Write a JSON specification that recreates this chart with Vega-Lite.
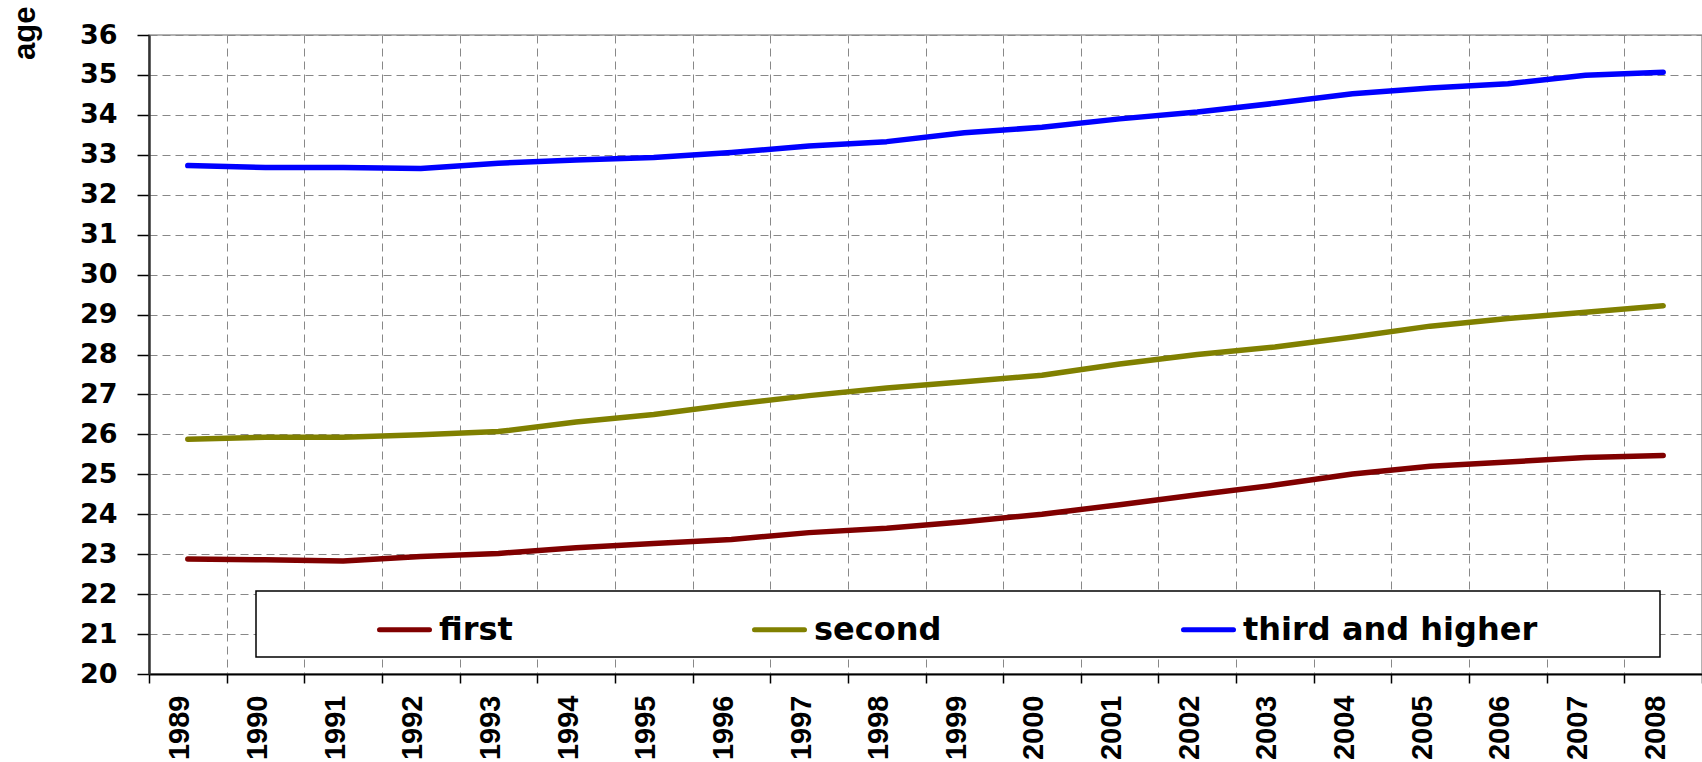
{
  "$schema": "https://vega.github.io/schema/vega-lite/v6.json",
  "width": 1553,
  "height": 639,
  "autosize": {"type": "none"},
  "padding": {"left": 149, "top": 35, "right": 0, "bottom": 88},
  "background": "white",
  "data": {
    "values": [
      {"year": 1989, "series": "first", "age": 22.88},
      {"year": 1990, "series": "first", "age": 22.86},
      {"year": 1991, "series": "first", "age": 22.83},
      {"year": 1992, "series": "first", "age": 22.94},
      {"year": 1993, "series": "first", "age": 23.02},
      {"year": 1994, "series": "first", "age": 23.16},
      {"year": 1995, "series": "first", "age": 23.27},
      {"year": 1996, "series": "first", "age": 23.37},
      {"year": 1997, "series": "first", "age": 23.54},
      {"year": 1998, "series": "first", "age": 23.65},
      {"year": 1999, "series": "first", "age": 23.81},
      {"year": 2000, "series": "first", "age": 24.0},
      {"year": 2001, "series": "first", "age": 24.24},
      {"year": 2002, "series": "first", "age": 24.49},
      {"year": 2003, "series": "first", "age": 24.73},
      {"year": 2004, "series": "first", "age": 25.01},
      {"year": 2005, "series": "first", "age": 25.2},
      {"year": 2006, "series": "first", "age": 25.31},
      {"year": 2007, "series": "first", "age": 25.42},
      {"year": 2008, "series": "first", "age": 25.47},
      {"year": 1989, "series": "second", "age": 25.88},
      {"year": 1990, "series": "second", "age": 25.93},
      {"year": 1991, "series": "second", "age": 25.93},
      {"year": 1992, "series": "second", "age": 25.99},
      {"year": 1993, "series": "second", "age": 26.07},
      {"year": 1994, "series": "second", "age": 26.31},
      {"year": 1995, "series": "second", "age": 26.5},
      {"year": 1996, "series": "second", "age": 26.75},
      {"year": 1997, "series": "second", "age": 26.97},
      {"year": 1998, "series": "second", "age": 27.16},
      {"year": 1999, "series": "second", "age": 27.32},
      {"year": 2000, "series": "second", "age": 27.48},
      {"year": 2001, "series": "second", "age": 27.76},
      {"year": 2002, "series": "second", "age": 28.0},
      {"year": 2003, "series": "second", "age": 28.19},
      {"year": 2004, "series": "second", "age": 28.44},
      {"year": 2005, "series": "second", "age": 28.71},
      {"year": 2006, "series": "second", "age": 28.9},
      {"year": 2007, "series": "second", "age": 29.06},
      {"year": 2008, "series": "second", "age": 29.22},
      {"year": 1989, "series": "third and higher", "age": 32.73},
      {"year": 1990, "series": "third and higher", "age": 32.68},
      {"year": 1991, "series": "third and higher", "age": 32.68},
      {"year": 1992, "series": "third and higher", "age": 32.66},
      {"year": 1993, "series": "third and higher", "age": 32.79},
      {"year": 1994, "series": "third and higher", "age": 32.87},
      {"year": 1995, "series": "third and higher", "age": 32.93},
      {"year": 1996, "series": "third and higher", "age": 33.06},
      {"year": 1997, "series": "third and higher", "age": 33.22},
      {"year": 1998, "series": "third and higher", "age": 33.33},
      {"year": 1999, "series": "third and higher", "age": 33.55},
      {"year": 2000, "series": "third and higher", "age": 33.69},
      {"year": 2001, "series": "third and higher", "age": 33.9},
      {"year": 2002, "series": "third and higher", "age": 34.07},
      {"year": 2003, "series": "third and higher", "age": 34.29},
      {"year": 2004, "series": "third and higher", "age": 34.53},
      {"year": 2005, "series": "third and higher", "age": 34.67},
      {"year": 2006, "series": "third and higher", "age": 34.78},
      {"year": 2007, "series": "third and higher", "age": 34.99},
      {"year": 2008, "series": "third and higher", "age": 35.07}
    ]
  },
  "mark": {"type": "line", "strokeWidth": 5.5, "strokeCap": "round", "strokeJoin": "round"},
  "encoding": {
    "x": {
      "field": "year",
      "type": "ordinal",
      "scale": {"type": "band", "paddingInner": 0, "paddingOuter": 0},
      "axis": {
        "title": null,
        "labelAngle": -90,
        "labelFont": "Liberation Sans",
        "labelFontWeight": "bold",
        "labelFontSize": 29,
        "labelColor": "black",
        "labelPadding": 12,
        "labelOffset": -8,
        "tickSize": 9,
        "tickColor": "black",
        "tickWidth": 1.5,
        "tickBand": "extent",
        "domainColor": "black",
        "domainWidth": 2,
        "grid": true,
        "gridColor": "#888888",
        "gridDash": [8, 5],
        "gridWidth": 1
      }
    },
    "y": {
      "field": "age",
      "type": "quantitative",
      "scale": {"domain": [20, 36], "nice": false, "zero": false},
      "axis": {
        "title": "age",
        "titleFont": "Liberation Sans",
        "titleFontSize": 31,
        "titleFontWeight": "bold",
        "titleColor": "black",
        "titleAngle": -90,
        "titleX": -124,
        "titleY": -29,
        "titleAlign": "right",
        "titleBaseline": "middle",
        "values": [20, 21, 22, 23, 24, 25, 26, 27, 28, 29, 30, 31, 32, 33, 34, 35, 36],
        "labelFont": "DejaVu Sans",
        "labelFontSize": 27,
        "labelFontWeight": "bold",
        "labelColor": "black",
        "labelPadding": 20,
        "tickSize": 12,
        "tickColor": "black",
        "tickWidth": 1.5,
        "domainColor": "#333333",
        "domainWidth": 2.5,
        "grid": true,
        "gridColor": "#888888",
        "gridDash": [8, 5],
        "gridWidth": 1
      }
    },
    "color": {
      "field": "series",
      "type": "nominal",
      "scale": {
        "domain": ["first", "second", "third and higher"],
        "range": ["#800000", "#808000", "#0000ff"]
      },
      "legend": {
        "title": " ",
        "titleOrient": "left",
        "titleFontSize": 1,
        "titlePadding": 110,
        "orient": "none",
        "legendX": 107,
        "legendY": 556,
        "direction": "horizontal",
        "columns": 3,
        "columnPadding": 231,
        "padding": 11,
        "strokeColor": "black",
        "fillColor": "white",
        "symbolType": "stroke",
        "symbolSize": 2500,
        "symbolStrokeWidth": 5,
        "labelFont": "DejaVu Sans",
        "labelFontSize": 32,
        "labelFontWeight": "bold",
        "labelColor": "black",
        "labelOffset": 7,
        "labelLimit": 1000,
        "labelExpr": "datum.label == 'third and higher' ? datum.label + '\u00a0\u00a0\u00a0\u00a0\u00a0\u00a0\u00a0\u00a0\u00a0\u00a0\u200b' : datum.label",
        "encode": {
          "legend": {"update": {"strokeWidth": {"value": 1.5}}},
          "symbols": {"update": {"strokeCap": {"value": "round"}}}
        }
      }
    }
  },
  "config": {
    "view": {"stroke": "#999999", "strokeWidth": 1.5}
  }
}
